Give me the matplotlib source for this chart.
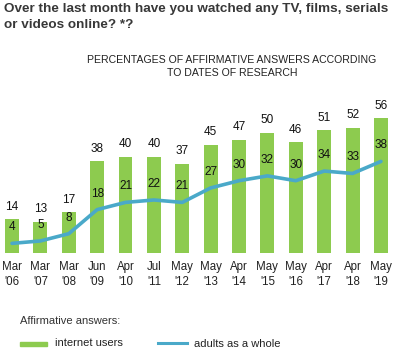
import matplotlib
matplotlib.use("Agg")
import matplotlib.pyplot as plt
from matplotlib.lines import Line2D

plt.rcParams['font.family'] = ['Liberation Sans', 'DejaVu Sans']

dates = ["Mar\n'06", "Mar\n'07", "Mar\n'08", "Jun\n'09", "Apr\n'10", "Jul\n'11", "May\n'12",
         "May\n'13", "Apr\n'14", "May\n'15", "May\n'16", "Apr\n'17", "Apr\n'18", "May\n'19"]
internet_users = [14, 13, 17, 38, 40, 40, 37, 45, 47, 50, 46, 51, 52, 56]
adults_whole = [4, 5, 8, 18, 21, 22, 21, 27, 30, 32, 30, 34, 33, 38]

GREEN = "#8dcb4f"
BLUE = "#4aa9c9"

W, H = 400, 348
fig = plt.figure(figsize=(W / 100, H / 100), dpi=100)

# plot area: bar baseline at 95 px from the bottom, slot width ~28.4 px
slot = 28.38
x0 = 12
ax = fig.add_axes([0, 95 / H, 1, 153 / H])
ax.set_xlim(-x0 / slot, (W - x0) / slot)
ax.set_ylim(0, 153 / 2.41)

xs = list(range(len(dates)))
ax.bar(xs, internet_users, width=0.49, color=GREEN, zorder=1)
ax.plot(xs, adults_whole, color=BLUE, lw=2.6, zorder=2, solid_capstyle='round')

for x, v in zip(xs, internet_users):
    ax.annotate(str(v), (x, v), xytext=(0, 9), textcoords='offset points',
                ha='center', va='center', fontsize=8.5, color='#111111')
for x, v in zip(xs, adults_whole):
    ax.annotate(str(v), (x, v), xytext=(0, 11.5), textcoords='offset points',
                ha='center', va='center', fontsize=8.5, color='#111111')

ax.set_xticks(xs)
ax.set_xticklabels(dates, fontsize=8.3, color='#222222', linespacing=1.25)
ax.tick_params(axis='x', length=0, pad=6)
ax.set_yticks([])
for s in ax.spines.values():
    s.set_visible(False)
ax.patch.set_alpha(0)

fig.text(4 / W, 1 - 3 / H, "Over the last month have you watched any TV, films, serials\nor videos online? *?",
         ha='left', va='top', fontsize=9.7, fontweight='bold', color='#383838',
         linespacing=1.45)
fig.text(232 / W, 1 - 55 / H, "PERCENTAGES OF AFFIRMATIVE ANSWERS ACCORDING\nTO DATES OF RESEARCH",
         ha='center', va='top', fontsize=7.6, color='#222222', linespacing=1.4)

fig.text(20 / W, 1 - 321 / H, "Affirmative answers:", ha='left', va='center',
         fontsize=8, color='#333333')
fig.patches.append(plt.Rectangle((20 / W, 1 - 345.5 / H), 27 / W, 4 / H,
                                 transform=fig.transFigure, color=GREEN))
fig.text(55 / W, 1 - 343 / H, "internet users", ha='left', va='center',
         fontsize=8, color='#222222')
fig.add_artist(Line2D([158 / W, 187 / W], [1 - 343 / H, 1 - 343 / H],
                      transform=fig.transFigure, color=BLUE, lw=2.2))
fig.text(194 / W, 1 - 344 / H, "adults as a whole", ha='left', va='center',
         fontsize=8, color='#222222')

fig.savefig("out.png", dpi=100)
